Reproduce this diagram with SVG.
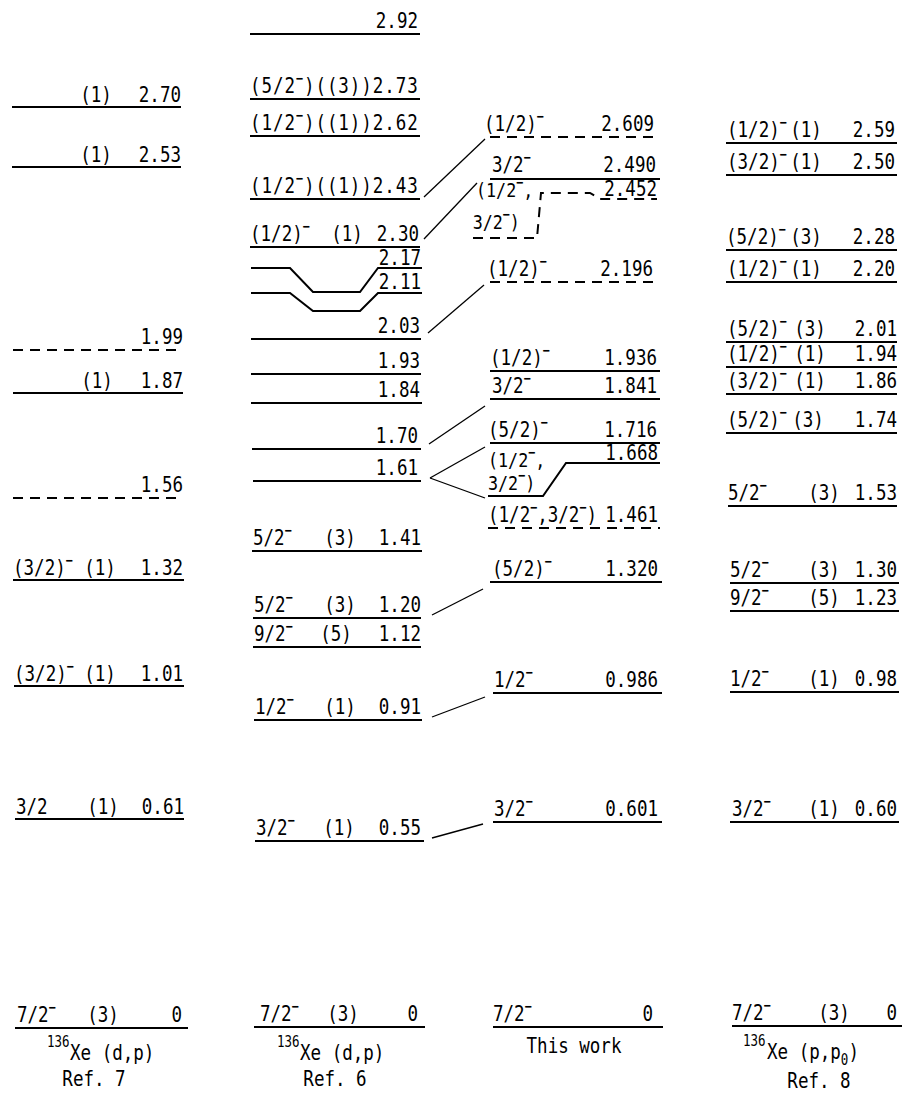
<svg xmlns="http://www.w3.org/2000/svg" width="902" height="1093" viewBox="0 0 902 1093">
<style>
.t{font-family:"DejaVu Sans Mono",monospace;font-size:21px;fill:#000}
.t2{font-size:20px}
.e{text-anchor:end}
.m{text-anchor:middle}
.s{font-size:14px;font-weight:bold}
.sm{font-size:15px}
.lv{stroke:#000;stroke-width:2;fill:none}
.d{stroke-dasharray:10 7}
.c{stroke:#000;stroke-width:1.3;fill:none}
</style>
<rect width="902" height="1093" fill="#fff"/>
<g id="connectors">
<line class="c" x1="424" y1="197" x2="485" y2="139"/>
<line class="c" x1="424" y1="239" x2="477" y2="183"/>
<line class="c" x1="428" y1="333" x2="484" y2="285"/>
<line class="c" x1="429" y1="444" x2="485" y2="406"/>
<line class="c" x1="430" y1="478" x2="485" y2="447"/>
<line class="c" x1="430" y1="478" x2="485" y2="498"/>
<line class="c" x1="432" y1="615" x2="483" y2="589"/>
<line class="c" x1="432" y1="717" x2="485" y2="697"/>
<line class="c" x1="432" y1="838" x2="483" y2="824"/>
</g>
<g id="ref7">
<g id="r7-270"><line class="lv" x1="12" y1="107" x2="181" y2="107"/><text class="t m" transform="translate(96,102)scale(.835,1)">(1)</text><text class="t e" transform="translate(181,102)scale(.835,1)">2.70</text></g>
<g id="r7-253"><line class="lv" x1="12" y1="167" x2="181" y2="167"/><text class="t m" transform="translate(96,162)scale(.835,1)">(1)</text><text class="t e" transform="translate(181,162)scale(.835,1)">2.53</text></g>
<g id="r7-199"><line class="lv d" x1="13" y1="350" x2="183" y2="350"/><text class="t e" transform="translate(183,344)scale(.835,1)">1.99</text></g>
<g id="r7-187"><line class="lv" x1="13" y1="393" x2="183" y2="393"/><text class="t m" transform="translate(97,388)scale(.835,1)">(1)</text><text class="t e" transform="translate(183,388)scale(.835,1)">1.87</text></g>
<g id="r7-156"><line class="lv d" x1="13" y1="498" x2="183" y2="498"/><text class="t e" transform="translate(183,492)scale(.835,1)">1.56</text></g>
<g id="r7-132"><line class="lv" x1="13" y1="580" x2="184" y2="580"/><text class="t" transform="translate(13,575)scale(.835,1)">(3/2)<tspan class="s" dy="-10">−</tspan></text><text class="t m" transform="translate(100,575)scale(.835,1)">(1)</text><text class="t e" transform="translate(183,575)scale(.835,1)">1.32</text></g>
<g id="r7-101"><line class="lv" x1="14" y1="686" x2="184" y2="686"/><text class="t" transform="translate(14,681)scale(.835,1)">(3/2)<tspan class="s" dy="-10">−</tspan></text><text class="t m" transform="translate(100,681)scale(.835,1)">(1)</text><text class="t e" transform="translate(183,681)scale(.835,1)">1.01</text></g>
<g id="r7-061"><line class="lv" x1="15" y1="819" x2="184" y2="819"/><text class="t" transform="translate(16,814)scale(.835,1)">3/2</text><text class="t m" transform="translate(103,814)scale(.835,1)">(1)</text><text class="t e" transform="translate(184,814)scale(.835,1)">0.61</text></g>
<g id="r7-0"><line class="lv" x1="15" y1="1028" x2="188" y2="1028"/><text class="t" transform="translate(17,1022)scale(.835,1)">7/2<tspan class="s" dy="-10">−</tspan></text><text class="t m" transform="translate(103,1022)scale(.835,1)">(3)</text><text class="t e" transform="translate(182,1022)scale(.835,1)">0</text></g>
<g id="r7-label"><text class="t sm" transform="translate(47,1047)scale(.835,1)">136</text><text class="t" transform="translate(70,1060)scale(.835,1)">Xe (d,p)</text><text class="t m" transform="translate(94,1086)scale(.835,1)">Ref. 7</text></g>
</g>
<g id="ref6">
<g id="r6-292"><line class="lv" x1="250" y1="34" x2="420" y2="34"/><text class="t e" transform="translate(418,28)scale(.835,1)">2.92</text></g>
<g id="r6-273"><line class="lv" x1="250" y1="99" x2="420" y2="99"/><text class="t" transform="translate(250,93)scale(.835,1)" textLength="201" lengthAdjust="spacing">(5/2<tspan class="s" dy="-10">−</tspan><tspan dy="10">)((3))2.73</tspan></text></g>
<g id="r6-262"><line class="lv" x1="250" y1="136" x2="420" y2="136"/><text class="t" transform="translate(250,130)scale(.835,1)" textLength="201" lengthAdjust="spacing">(1/2<tspan class="s" dy="-10">−</tspan><tspan dy="10">)((1))2.62</tspan></text></g>
<g id="r6-243"><line class="lv" x1="250" y1="199" x2="420" y2="199"/><text class="t" transform="translate(250,193)scale(.835,1)" textLength="201" lengthAdjust="spacing">(1/2<tspan class="s" dy="-10">−</tspan><tspan dy="10">)((1))2.43</tspan></text></g>
<g id="r6-230"><line class="lv" x1="250" y1="247" x2="420" y2="247"/><text class="t" transform="translate(250,241)scale(.835,1)">(1/2)<tspan class="s" dy="-10">−</tspan></text><text class="t m" transform="translate(347,241)scale(.835,1)">(1)</text><text class="t e" transform="translate(419,241)scale(.835,1)">2.30</text></g>
<g id="r6-217"><path class="lv" d="M251,268 H290 L313,292 H360 L378,268 H422"/><text class="t e" transform="translate(421,265)scale(.835,1)">2.17</text></g>
<g id="r6-211"><path class="lv" d="M251,293 H290 L313,311 H360 L378,293 H422"/><text class="t e" transform="translate(421,289)scale(.835,1)">2.11</text></g>
<g id="r6-203"><line class="lv" x1="251" y1="339" x2="421" y2="339"/><text class="t e" transform="translate(420,333)scale(.835,1)">2.03</text></g>
<g id="r6-193"><line class="lv" x1="251" y1="374" x2="421" y2="374"/><text class="t e" transform="translate(420,368)scale(.835,1)">1.93</text></g>
<g id="r6-184"><line class="lv" x1="251" y1="403" x2="422" y2="403"/><text class="t e" transform="translate(420,397)scale(.835,1)">1.84</text></g>
<g id="r6-170"><line class="lv" x1="252" y1="449" x2="421" y2="449"/><text class="t e" transform="translate(418,443)scale(.835,1)">1.70</text></g>
<g id="r6-161"><line class="lv" x1="253" y1="481" x2="421" y2="481"/><text class="t e" transform="translate(418,475)scale(.835,1)">1.61</text></g>
<g id="r6-141"><line class="lv" x1="252" y1="551" x2="422" y2="551"/><text class="t" transform="translate(253,545)scale(.835,1)">5/2<tspan class="s" dy="-10">−</tspan></text><text class="t m" transform="translate(340,545)scale(.835,1)">(3)</text><text class="t e" transform="translate(421,545)scale(.835,1)">1.41</text></g>
<g id="r6-120"><line class="lv" x1="253" y1="618" x2="421" y2="618"/><text class="t" transform="translate(254,612)scale(.835,1)">5/2<tspan class="s" dy="-10">−</tspan></text><text class="t m" transform="translate(340,612)scale(.835,1)">(3)</text><text class="t e" transform="translate(421,612)scale(.835,1)">1.20</text></g>
<g id="r6-112"><line class="lv" x1="253" y1="647" x2="421" y2="647"/><text class="t" transform="translate(254,641)scale(.835,1)">9/2<tspan class="s" dy="-10">−</tspan></text><text class="t m" transform="translate(336,641)scale(.835,1)">(5)</text><text class="t e" transform="translate(421,641)scale(.835,1)">1.12</text></g>
<g id="r6-091"><line class="lv" x1="254" y1="720" x2="422" y2="720"/><text class="t" transform="translate(255,714)scale(.835,1)">1/2<tspan class="s" dy="-10">−</tspan></text><text class="t m" transform="translate(340,714)scale(.835,1)">(1)</text><text class="t e" transform="translate(421,714)scale(.835,1)">0.91</text></g>
<g id="r6-055"><line class="lv" x1="255" y1="841" x2="424" y2="841"/><text class="t" transform="translate(256,835)scale(.835,1)">3/2<tspan class="s" dy="-10">−</tspan></text><text class="t m" transform="translate(339,835)scale(.835,1)">(1)</text><text class="t e" transform="translate(421,835)scale(.835,1)">0.55</text></g>
<g id="r6-0"><line class="lv" x1="254" y1="1027" x2="425" y2="1027"/><text class="t" transform="translate(260,1021)scale(.835,1)">7/2<tspan class="s" dy="-10">−</tspan></text><text class="t m" transform="translate(343,1021)scale(.835,1)">(3)</text><text class="t e" transform="translate(418,1021)scale(.835,1)">0</text></g>
<g id="r6-label"><text class="t sm" transform="translate(277,1047)scale(.835,1)">136</text><text class="t" transform="translate(300,1060)scale(.835,1)">Xe (d,p)</text><text class="t m" transform="translate(335,1086)scale(.835,1)">Ref. 6</text></g>
</g>
<g id="thiswork">
<g id="tw-2609"><line class="lv d" x1="490" y1="137" x2="658" y2="137"/><text class="t" transform="translate(484,131)scale(.835,1)">(1/2)<tspan class="s" dy="-10">−</tspan></text><text class="t e" transform="translate(654,131)scale(.835,1)">2.609</text></g>
<g id="tw-2490"><line class="lv" x1="490" y1="179" x2="660" y2="179"/><text class="t" transform="translate(492,172)scale(.835,1)">3/2<tspan class="s" dy="-10">−</tspan></text><text class="t e" transform="translate(656,172)scale(.835,1)">2.490</text></g>
<g id="tw-2452"><path class="lv d" d="M473,238 H537 L541,193 H590 L600,199 H657"/><text class="t t2" transform="translate(476,197)scale(.835,1)">(1/2<tspan class="s" dy="-10">−</tspan><tspan dy="10">,</tspan><tspan x="-4" dy="32">3/2</tspan><tspan class="s" dy="-10">−</tspan><tspan dy="10">)</tspan></text><text class="t e" transform="translate(657,196)scale(.835,1)">2.452</text></g>
<g id="tw-2196"><line class="lv d" x1="490" y1="282" x2="660" y2="282"/><text class="t" transform="translate(487,276)scale(.835,1)">(1/2)<tspan class="s" dy="-10">−</tspan></text><text class="t e" transform="translate(653,276)scale(.835,1)">2.196</text></g>
<g id="tw-1936"><line class="lv" x1="490" y1="371" x2="660" y2="371"/><text class="t" transform="translate(490,365)scale(.835,1)">(1/2)<tspan class="s" dy="-10">−</tspan></text><text class="t e" transform="translate(657,365)scale(.835,1)">1.936</text></g>
<g id="tw-1841"><line class="lv" x1="490" y1="399" x2="660" y2="399"/><text class="t" transform="translate(492,393)scale(.835,1)">3/2<tspan class="s" dy="-10">−</tspan></text><text class="t e" transform="translate(657,393)scale(.835,1)">1.841</text></g>
<g id="tw-1716"><line class="lv" x1="490" y1="443" x2="660" y2="443"/><text class="t" transform="translate(488,437)scale(.835,1)">(5/2)<tspan class="s" dy="-10">−</tspan></text><text class="t e" transform="translate(657,437)scale(.835,1)">1.716</text></g>
<g id="tw-1668"><path class="lv" d="M488,496 H543 L566,463 H660"/><text class="t t2" transform="translate(488,467)scale(.835,1)">(1/2<tspan class="s" dy="-10">−</tspan><tspan dy="10">,</tspan><tspan x="0" dy="23">3/2</tspan><tspan class="s" dy="-10">−</tspan><tspan dy="10">)</tspan></text><text class="t e" transform="translate(658,460)scale(.835,1)">1.668</text></g>
<g id="tw-1461"><line class="lv d" x1="488" y1="528" x2="660" y2="528"/><text class="t" transform="translate(488,522)scale(.835,1)">(1/2<tspan class="s" dy="-10">−</tspan><tspan dy="10">,3/2</tspan><tspan class="s" dy="-10">−</tspan><tspan dy="10">)</tspan></text><text class="t e" transform="translate(658,522)scale(.835,1)">1.461</text></g>
<g id="tw-1320"><line class="lv" x1="490" y1="582" x2="662" y2="582"/><text class="t" transform="translate(492,576)scale(.835,1)">(5/2)<tspan class="s" dy="-10">−</tspan></text><text class="t e" transform="translate(658,576)scale(.835,1)">1.320</text></g>
<g id="tw-0986"><line class="lv" x1="493" y1="693" x2="662" y2="693"/><text class="t" transform="translate(494,687)scale(.835,1)">1/2<tspan class="s" dy="-10">−</tspan></text><text class="t e" transform="translate(658,687)scale(.835,1)">0.986</text></g>
<g id="tw-0601"><line class="lv" x1="493" y1="822" x2="662" y2="822"/><text class="t" transform="translate(494,816)scale(.835,1)">3/2<tspan class="s" dy="-10">−</tspan></text><text class="t e" transform="translate(658,816)scale(.835,1)">0.601</text></g>
<g id="tw-0"><line class="lv" x1="493" y1="1027" x2="663" y2="1027"/><text class="t" transform="translate(493,1021)scale(.835,1)">7/2<tspan class="s" dy="-10">−</tspan></text><text class="t e" transform="translate(653,1021)scale(.835,1)">0</text></g>
<g id="tw-label"><text class="t m" transform="translate(574,1053)scale(.835,1)">This work</text></g>
</g>
<g id="ref8">
<g id="r8-259"><line class="lv" x1="726" y1="143" x2="897" y2="143"/><text class="t" transform="translate(727,137)scale(.835,1)">(1/2)<tspan class="s" dy="-10">−</tspan></text><text class="t m" transform="translate(806,137)scale(.835,1)">(1)</text><text class="t e" transform="translate(895,137)scale(.835,1)">2.59</text></g>
<g id="r8-250"><line class="lv" x1="726" y1="175" x2="897" y2="175"/><text class="t" transform="translate(727,169)scale(.835,1)">(3/2)<tspan class="s" dy="-10">−</tspan></text><text class="t m" transform="translate(806,169)scale(.835,1)">(1)</text><text class="t e" transform="translate(895,169)scale(.835,1)">2.50</text></g>
<g id="r8-228"><line class="lv" x1="726" y1="250" x2="897" y2="250"/><text class="t" transform="translate(726,244)scale(.835,1)">(5/2)<tspan class="s" dy="-10">−</tspan></text><text class="t m" transform="translate(806,244)scale(.835,1)">(3)</text><text class="t e" transform="translate(895,244)scale(.835,1)">2.28</text></g>
<g id="r8-220"><line class="lv" x1="726" y1="282" x2="897" y2="282"/><text class="t" transform="translate(727,276)scale(.835,1)">(1/2)<tspan class="s" dy="-10">−</tspan></text><text class="t m" transform="translate(806,276)scale(.835,1)">(1)</text><text class="t e" transform="translate(895,276)scale(.835,1)">2.20</text></g>
<g id="r8-201"><line class="lv" x1="726" y1="342" x2="897" y2="342"/><text class="t" transform="translate(727,336)scale(.835,1)">(5/2)<tspan class="s" dy="-10">−</tspan></text><text class="t m" transform="translate(810,336)scale(.835,1)">(3)</text><text class="t e" transform="translate(897,336)scale(.835,1)">2.01</text></g>
<g id="r8-194"><line class="lv" x1="726" y1="367" x2="897" y2="367"/><text class="t" transform="translate(727,361)scale(.835,1)">(1/2)<tspan class="s" dy="-10">−</tspan></text><text class="t m" transform="translate(810,361)scale(.835,1)">(1)</text><text class="t e" transform="translate(897,361)scale(.835,1)">1.94</text></g>
<g id="r8-186"><line class="lv" x1="726" y1="394" x2="897" y2="394"/><text class="t" transform="translate(727,388)scale(.835,1)">(3/2)<tspan class="s" dy="-10">−</tspan></text><text class="t m" transform="translate(810,388)scale(.835,1)">(1)</text><text class="t e" transform="translate(897,388)scale(.835,1)">1.86</text></g>
<g id="r8-174"><line class="lv" x1="726" y1="433" x2="897" y2="433"/><text class="t" transform="translate(727,427)scale(.835,1)">(5/2)<tspan class="s" dy="-10">−</tspan></text><text class="t m" transform="translate(808,427)scale(.835,1)">(3)</text><text class="t e" transform="translate(897,427)scale(.835,1)">1.74</text></g>
<g id="r8-153"><line class="lv" x1="728" y1="506" x2="897" y2="506"/><text class="t" transform="translate(728,500)scale(.835,1)">5/2<tspan class="s" dy="-10">−</tspan></text><text class="t m" transform="translate(824,500)scale(.835,1)">(3)</text><text class="t e" transform="translate(897,500)scale(.835,1)">1.53</text></g>
<g id="r8-130"><line class="lv" x1="730" y1="583" x2="899" y2="583"/><text class="t" transform="translate(730,577)scale(.835,1)">5/2<tspan class="s" dy="-10">−</tspan></text><text class="t m" transform="translate(824,577)scale(.835,1)">(3)</text><text class="t e" transform="translate(897,577)scale(.835,1)">1.30</text></g>
<g id="r8-123"><line class="lv" x1="730" y1="611" x2="899" y2="611"/><text class="t" transform="translate(730,605)scale(.835,1)">9/2<tspan class="s" dy="-10">−</tspan></text><text class="t m" transform="translate(824,605)scale(.835,1)">(5)</text><text class="t e" transform="translate(897,605)scale(.835,1)">1.23</text></g>
<g id="r8-098"><line class="lv" x1="730" y1="692" x2="899" y2="692"/><text class="t" transform="translate(730,686)scale(.835,1)">1/2<tspan class="s" dy="-10">−</tspan></text><text class="t m" transform="translate(824,686)scale(.835,1)">(1)</text><text class="t e" transform="translate(897,686)scale(.835,1)">0.98</text></g>
<g id="r8-060"><line class="lv" x1="730" y1="822" x2="899" y2="822"/><text class="t" transform="translate(732,816)scale(.835,1)">3/2<tspan class="s" dy="-10">−</tspan></text><text class="t m" transform="translate(824,816)scale(.835,1)">(1)</text><text class="t e" transform="translate(897,816)scale(.835,1)">0.60</text></g>
<g id="r8-0"><line class="lv" x1="732" y1="1026" x2="902" y2="1026"/><text class="t" transform="translate(732,1020)scale(.835,1)">7/2<tspan class="s" dy="-10">−</tspan></text><text class="t m" transform="translate(834,1020)scale(.835,1)">(3)</text><text class="t e" transform="translate(897,1020)scale(.835,1)">0</text></g>
<g id="r8-label"><text class="t sm" transform="translate(743,1046)scale(.835,1)">136</text><text class="t" transform="translate(767,1059)scale(.835,1)">Xe (p,p<tspan class="sm" dy="6">0</tspan><tspan dy="-6">)</tspan></text><text class="t m" transform="translate(819,1088)scale(.835,1)">Ref. 8</text></g>
</g>
</svg>
